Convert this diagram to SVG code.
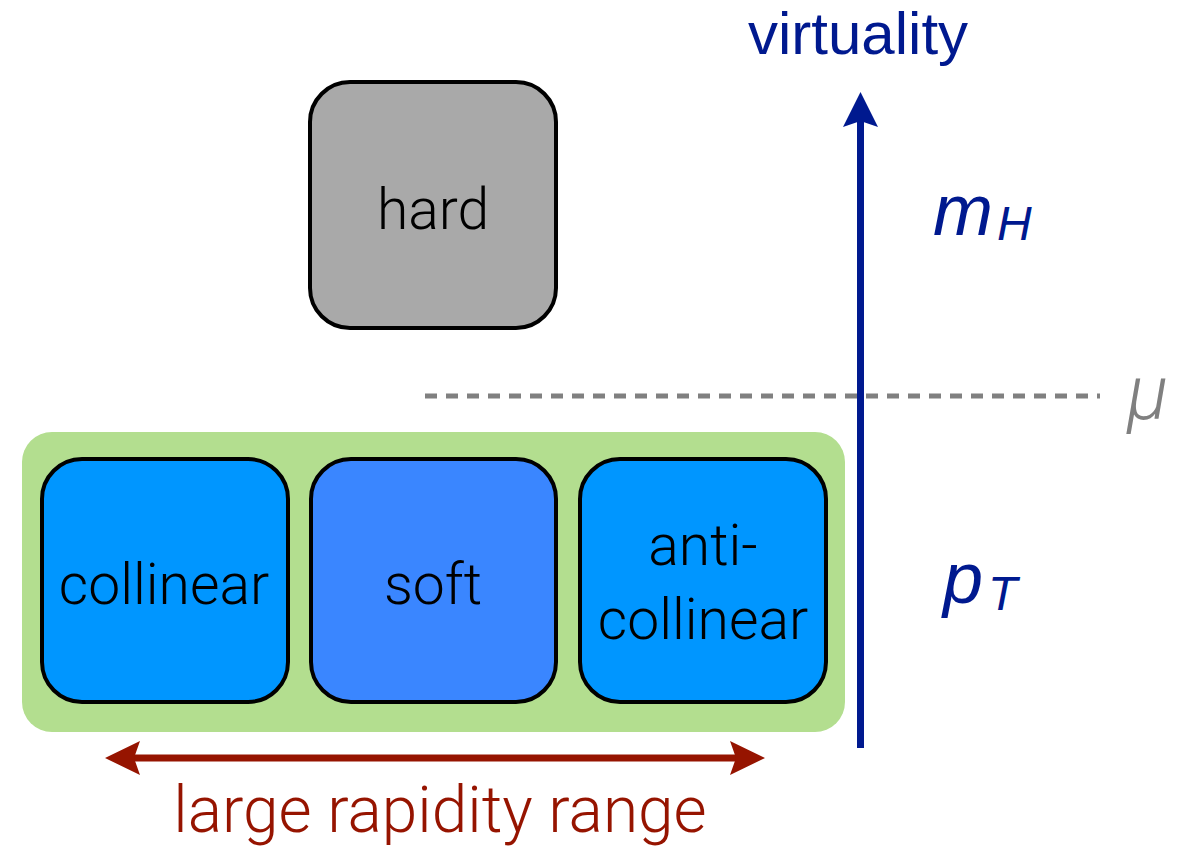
<svg xmlns="http://www.w3.org/2000/svg" width="1193" height="849" viewBox="0 0 1193 849">
  <style>
    .box { stroke: #000; stroke-width: 4; }
    .lbl { font-family: Roboto, "Liberation Sans", sans-serif; font-weight: 300; font-size: 57px; fill: #000; text-anchor: middle; }
    .blue { fill: #00198f; font-family: "Liberation Sans", Arial, sans-serif; }
    .math { font-style: italic; }
  </style>
  <rect width="1193" height="849" fill="#fff"/>
  <g id="region">
    <rect x="22" y="432" width="823" height="300" rx="30" fill="#b3de8f"/>
  </g>
  <g id="hard">
    <rect class="box" x="310" y="82" width="246" height="246" rx="40" fill="#a9a9a9"/>
    <text class="lbl" x="433" y="229" font-size="59">hard</text>
  </g>
  <g id="collinear">
    <rect class="box" x="42" y="459" width="246" height="243" rx="40" fill="#0096ff"/>
    <text class="lbl" x="164" y="604">collinear</text>
  </g>
  <g id="soft">
    <rect class="box" x="311" y="459" width="245" height="243" rx="40" fill="#3a86ff"/>
    <text class="lbl" x="433" y="604">soft</text>
  </g>
  <g id="anticollinear">
    <rect class="box" x="580" y="459" width="246" height="243" rx="40" fill="#0096ff"/>
    <text class="lbl" x="703" y="565">anti-</text>
    <text class="lbl" x="703" y="639">collinear</text>
  </g>
  <g id="connectors">
    <line x1="425" y1="396" x2="1100" y2="396" stroke="#808080" stroke-width="5" stroke-dasharray="12 9"/>
    <line x1="860.5" y1="748" x2="860.5" y2="118" stroke="#00198f" stroke-width="7"/>
    <polygon points="860.5,92 878,127 860.5,121 843,127" fill="#00198f"/>
    <line x1="130" y1="758" x2="740" y2="758" stroke="#961400" stroke-width="7"/>
    <polygon points="105,758 140,741 134,758 140,775" fill="#961400"/>
    <polygon points="765,758 730,741 736,758 730,775" fill="#961400"/>
  </g>
  <g id="labels">
    <text class="blue" x="748" y="54" font-size="60">virtuality</text>
    <text class="blue math" x="933" y="235" font-size="72">m</text>
    <text class="blue math" x="997" y="240" font-size="48">H</text>
    <text class="blue math" x="943" y="603" font-size="72">p</text>
    <text class="blue math" x="988" y="610" font-size="48">T</text>
    <text x="1127" y="419" font-size="76" font-style="italic" fill="#808080" font-family="Roboto, 'Liberation Sans', sans-serif" font-weight="300">μ</text>
    <text x="440" y="832" font-size="64" fill="#961400" text-anchor="middle" font-family="Roboto, 'Liberation Sans', sans-serif" font-weight="300">large rapidity range</text>
  </g>
</svg>
